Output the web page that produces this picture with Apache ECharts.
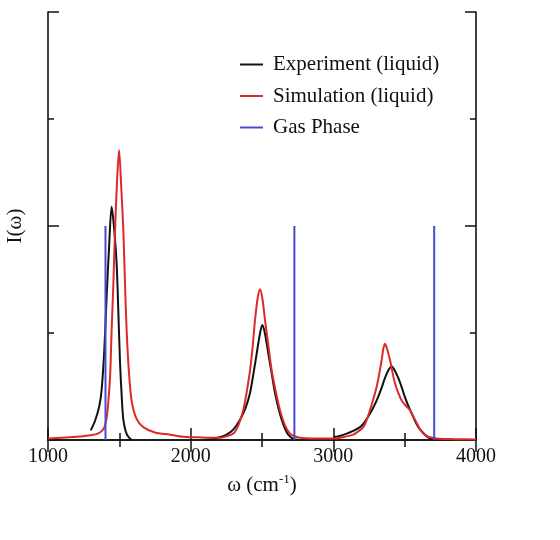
<!DOCTYPE html>
<html>
<head>
<meta charset="utf-8">
<script src="https://cdn.jsdelivr.net/npm/echarts@6/dist/echarts.min.js"></script>
<style>
  html, body { margin: 0; padding: 0; background: #fff; }
  #chart { width: 560px; height: 540px; }
</style>
</head>
<body>
<div id="chart"></div>
<script>
// experiment (liquid), three separate pieces, null = gap
const expW = [1299, 1330, 1360, 1376, 1395, 1411, 1428, 1446, 1462, 1481, 1493, 1505, 1517, 1528, 1545, 1563, 1587,
  null,
  2100, 2159, 2200, 2252, 2300, 2346, 2385, 2416, 2440, 2463, 2484, 2502, 2520, 2544, 2568, 2591, 2615, 2638, 2660, 2684, 2719, 2750,
  null,
  3000, 3050, 3094, 3140, 3187, 3215, 3245, 3275, 3304, 3334, 3362, 3385, 3409, 3430, 3455, 3480, 3502, 3525, 3549, 3572, 3596, 3620, 3642, 3665, 3689, 3710]
const expI = [0.09, 0.18, 0.32, 0.47, 0.85, 1.34, 1.8, 2.18, 2.0, 1.65, 1.2, 0.72, 0.4, 0.19, 0.08, 0.03, 0.0,
  null,
  0.0, 0.01, 0.025, 0.05, 0.1, 0.19, 0.3, 0.44, 0.62, 0.81, 0.98, 1.075, 1.0, 0.81, 0.62, 0.44, 0.3, 0.19, 0.11, 0.05, 0.01, 0.0,
  null,
  0.025, 0.04, 0.06, 0.085, 0.12, 0.16, 0.22, 0.29, 0.37, 0.47, 0.58, 0.65, 0.69, 0.65, 0.58, 0.49, 0.4, 0.32, 0.25, 0.18, 0.12, 0.08, 0.05, 0.025, 0.01, 0.0]

// simulation (liquid)
const simW = [1000, 1100, 1200, 1300, 1350, 1388, 1410, 1423, 1436, 1446, 1458, 1470, 1485, 1498, 1512, 1528, 1540, 1551, 1568, 1587, 1620, 1668, 1750, 1855, 1950, 2050, 2150,
  2206, 2250, 2299, 2335, 2369, 2393, 2416, 2435, 2451, 2470, 2486, 2503, 2521, 2545, 2568, 2597, 2626, 2660, 2696, 2730, 2766, 2850, 2950,
  3023, 3080, 3140, 3175, 3210, 3235, 3257, 3280, 3304, 3322, 3339, 3350, 3362, 3375, 3397, 3415, 3432, 3455, 3479, 3508, 3537, 3560, 3584, 3608, 3631, 3655, 3677, 3720, 3770, 3850, 4000]
const simI = [0.015, 0.02, 0.03, 0.045, 0.06, 0.1, 0.2, 0.36, 0.62, 1.03, 1.45, 1.96, 2.45, 2.71, 2.4, 1.96, 1.45, 1.03, 0.62, 0.36, 0.2, 0.12, 0.07, 0.05, 0.03, 0.025, 0.02,
  0.02, 0.035, 0.06, 0.14, 0.28, 0.45, 0.65, 0.88, 1.12, 1.33, 1.41, 1.32, 1.12, 0.88, 0.65, 0.45, 0.28, 0.14, 0.06, 0.035, 0.02, 0.015, 0.015,
  0.015, 0.03, 0.05, 0.08, 0.12, 0.19, 0.28, 0.38, 0.5, 0.62, 0.75, 0.85, 0.9, 0.86, 0.75, 0.63, 0.53, 0.44, 0.37, 0.32, 0.28, 0.22, 0.16, 0.1, 0.06, 0.04, 0.025, 0.015, 0.01, 0.008, 0.005]

// gas phase sticks
const gasW = [1403, 2727, 3707]
const gasI = [2, 2, 2]

const xTicks = { min: 1000, max: 4000, interval: 1000 }
const yTicks = { min: 0, max: 4, interval: 2 }

const serif = 'Liberation Serif'

function pairs (w, v) {
  return w.map((x, i) => (x === null ? [null, '-'] : [x, v[i]]))
}

const gasData = []
gasW.forEach((w, i) => {
  gasData.push([w, 0], [w, gasI[i]], [w, '-'])
})

const chart = echarts.init(document.getElementById('chart'))

const frame = {
  axisLine: { show: true, lineStyle: { color: '#111', width: 1.6 } },
  splitLine: { show: false }
}
const xTick = { inside: true, length: 12, lineStyle: { color: '#111', width: 1.5 } }
const xMinor = { show: true, splitNumber: 2, length: 7, lineStyle: { color: '#111', width: 1.5 } }
const yTick = { inside: true, length: 11, lineStyle: { color: '#111', width: 1.5 } }
const yMinor = { show: true, splitNumber: 2, length: 6, lineStyle: { color: '#111', width: 1.5 } }

chart.setOption({
  animation: false,
  backgroundColor: '#fff',
  grid: { left: 48, top: 12, right: 84, bottom: 100, outerBoundsMode: 'none', containLabel: false },
  legend: {
    orient: 'vertical',
    left: 235,
    top: 49,
    icon: 'rect',
    itemWidth: 23,
    itemHeight: 2,
    itemGap: 10.5,
    textStyle: { fontFamily: serif, fontSize: 21, color: '#111', padding: [0, 0, 0, 5] },
    data: ['Experiment (liquid)', 'Simulation (liquid)', 'Gas Phase']
  },
  xAxis: [
    {
      type: 'value',
      ...xTicks,
      ...frame,
      name: '{a|ω (cm}{s|-1}{a|)}',
      nameLocation: 'middle',
      nameGap: 33,
      nameTextStyle: {
        rich: {
          a: { fontFamily: serif, fontSize: 21, color: '#111' },
          s: { fontFamily: serif, fontSize: 13, color: '#111', verticalAlign: 'top', padding: [0, 0, 11, 0] }
        }
      },
      axisTick: xTick,
      minorTick: xMinor,
      axisLabel: { fontFamily: serif, fontSize: 20, color: '#111', margin: 7, formatter: v => String(v) }
    },
    {
      type: 'value',
      position: 'top',
      ...xTicks,
      ...frame,
      axisTick: xTick,
      minorTick: xMinor,
      axisLabel: { show: false }
    }
  ],
  yAxis: [
    {
      type: 'value',
      ...yTicks,
      ...frame,
      name: 'I(ω)',
      nameLocation: 'middle',
      nameGap: 22,
      nameRotate: 90,
      nameTextStyle: { fontFamily: serif, fontSize: 21, color: '#111' },
      axisTick: yTick,
      minorTick: yMinor,
      axisLabel: { show: false }
    },
    {
      type: 'value',
      position: 'right',
      ...yTicks,
      ...frame,
      axisTick: yTick,
      minorTick: yMinor,
      axisLabel: { show: false }
    }
  ],
  series: [
    {
      name: 'Experiment (liquid)',
      type: 'line',
      data: pairs(expW, expI),
      smooth: 0.3,
      showSymbol: false,
      color: '#111',
      lineStyle: { width: 2, color: '#111' }
    },
    {
      name: 'Simulation (liquid)',
      type: 'line',
      data: pairs(simW, simI),
      smooth: 0.3,
      showSymbol: false,
      color: '#dc2a2a',
      lineStyle: { width: 2, color: '#dc2a2a' }
    },
    {
      name: 'Gas Phase',
      type: 'line',
      data: gasData,
      showSymbol: false,
      color: '#4a4ad0',
      lineStyle: { width: 2, color: '#4a4ad0' }
    }
  ]
})
</script>
</body>
</html>
